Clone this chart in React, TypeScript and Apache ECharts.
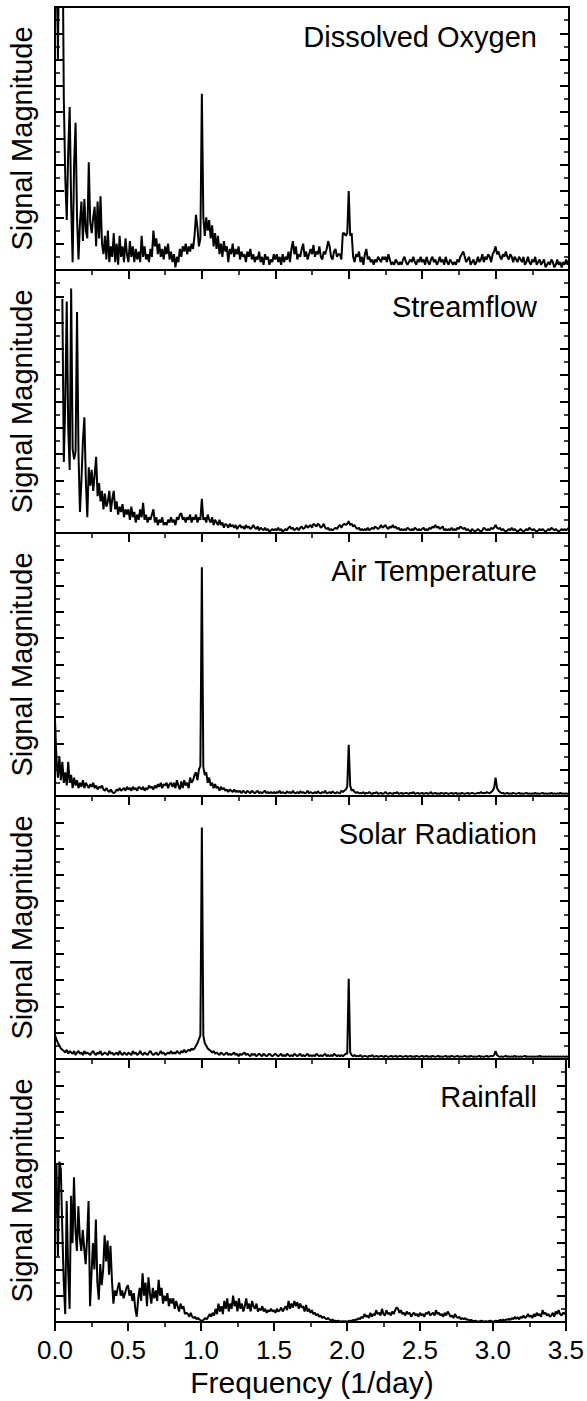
import React, { useEffect, useRef } from "react";
import * as echarts from "echarts";

// Sampling grid of the spectra (1/day)
const FREQ_STEP = 0.01;

const TITLES = ["Dissolved Oxygen", "Streamflow", "Air Temperature", "Solar Radiation", "Rainfall"];
const X_TICK_LABELS = ["0.0", "0.5", "1.0", "1.5", "2.0", "2.5", "3.0", "3.5"];

// Values read every 0.01 1/day from 0 to 3.5 (ten per line)
const DISSOLVED_OXYGEN = [
  9, 14, 8, 14, 10, 14, 6.5, 3.5, 1.9, 4.5,
  6.2, 2.5, 0.3, 4.0, 5.6, 2.0, 0.4, 1.8, 2.6, 1.1,
  2.7, 1.5, 1.2, 4.1, 1.8, 1.4, 2.0, 2.4, 0.9, 2.6,
  1.2, 2.8, 1.0, 0.6, 1.3, 0.4, 1.5, 0.3, 0.9, 0.5,
  1.4, 0.3, 1.0, 0.2, 1.3, 0.5, 0.9, 0.3, 1.2, 0.6,
  0.3, 1.1, 0.5, 0.9, 0.3, 0.8, 0.4, 0.7, 0.3, 1.3,
  0.5, 0.9, 0.4, 0.6, 0.3, 0.8, 0.5, 1.5, 0.9, 1.2,
  0.6, 1.0, 0.5, 0.8, 0.4, 0.9, 0.6, 1.0, 0.4, 0.7,
  0.3, 0.6, 0.1, 0.5, 0.3, 0.8, 0.5, 0.9, 0.7, 1.0,
  0.6, 0.9, 0.7, 1.0, 0.8, 1.3, 2.1, 1.6, 0.9, 1.2,
  6.7, 2.0, 1.3, 2.0, 1.5, 1.9, 1.2, 1.7, 0.9, 1.4,
  0.8, 1.3, 0.6, 1.0, 0.5, 1.1, 0.7, 0.9, 0.3, 0.8,
  0.6, 1.0, 0.5, 0.8, 0.6, 0.9, 0.4, 0.7, 0.5, 0.6,
  0.3, 0.7, 0.5, 0.8, 0.4, 0.6, 0.3, 0.5, 0.4, 0.7,
  0.3, 0.5, 0.2, 0.6, 0.4, 0.5, 0.2, 0.4, 0.3, 0.6,
  0.4, 0.6, 0.3, 0.5, 0.2, 0.6, 0.3, 0.5, 0.4, 0.7,
  0.3, 0.8, 1.1, 0.6, 0.9, 0.4, 0.6, 0.5, 0.8, 1.0,
  0.5, 0.7, 0.4, 0.6, 0.8, 0.6, 0.95, 0.5, 0.7, 0.6,
  0.9, 0.5, 0.4, 0.7, 0.6, 0.8, 1.1, 0.9, 0.5, 0.4,
  0.7, 0.8, 0.5, 0.6, 0.6, 0.4, 1.4, 1.4, 1.3, 1.4,
  3.0, 1.3, 1.4, 0.5, 0.3, 0.6, 0.5, 0.7, 0.3, 0.5,
  0.2, 0.6, 0.8, 0.4, 0.5, 0.3, 0.4, 0.2, 0.4, 0.3,
  0.5, 0.4, 0.3, 0.5, 0.4, 0.5, 0.3, 0.6, 0.4, 0.2,
  0.3, 0.2, 0.4, 0.3, 0.2, 0.3, 0.2, 0.4, 0.5, 0.3,
  0.2, 0.3, 0.4, 0.3, 0.5, 0.3, 0.2, 0.4, 0.3, 0.5,
  0.3, 0.4, 0.2, 0.5, 0.3, 0.2, 0.4, 0.5, 0.3, 0.4,
  0.2, 0.3, 0.5, 0.3, 0.4, 0.2, 0.5, 0.3, 0.2, 0.4,
  0.3, 0.2, 0.3, 0.2, 0.4, 0.3, 0.5, 0.6, 0.7, 0.5,
  0.3, 0.4, 0.5, 0.2, 0.3, 0.4, 0.2, 0.3, 0.5, 0.3,
  0.4, 0.6, 0.3, 0.5, 0.4, 0.6, 0.5, 0.3, 0.6, 0.7,
  0.9, 0.6, 0.7, 0.5, 0.4, 0.6, 0.5, 0.7, 0.5, 0.4,
  0.6, 0.5, 0.3, 0.5, 0.4, 0.3, 0.5, 0.4, 0.3, 0.5,
  0.2, 0.3, 0.5, 0.3, 0.2, 0.4, 0.3, 0.5, 0.2, 0.3,
  0.4, 0.2, 0.3, 0.4, 0.1, 0.2, 0.3, 0.2, 0.4, 0.3,
  0.1, 0.2, 0.4, 0.2, 0.3, 0.1, 0.3, 0.2, 0.4, 0.2,
  0.4,
];

const STREAMFLOW = [
  null, null, null, null, null, 8.9, 2.7, 5.0, 8.8, 4.0,
  2.4, 9.3, 3.2, 2.8, 3.1, 8.4, 3.0, 0.8, 2.0, 3.5,
  4.4, 2.0, 0.6, 2.5, 1.8, 2.4, 1.6, 2.2, 2.9, 1.4,
  1.9, 1.2, 1.6, 0.9, 1.5, 1.0, 1.2, 1.6, 0.8, 1.3,
  1.6, 0.9, 1.2, 0.7, 1.0, 0.8, 1.1, 0.6, 0.9, 0.7,
  0.9, 0.5, 1.0, 0.6, 0.8, 0.4, 0.7, 0.5, 0.9, 0.6,
  1.15, 0.5, 0.7, 0.4, 0.6, 0.5, 0.7, 0.9, 0.4, 0.6,
  0.3, 0.5, 0.4, 0.6, 0.3, 0.4, 0.3, 0.5, 0.4, 0.6,
  0.4, 0.5, 0.3, 0.6, 0.5, 0.7, 0.75, 0.5, 0.6, 0.4,
  0.6, 0.5, 0.7, 0.4, 0.6, 0.5, 0.7, 0.4, 0.6, 0.5,
  1.3, 0.5, 0.6, 0.4, 0.7, 0.5, 0.4, 0.6, 0.3, 0.5,
  0.4, 0.3, 0.5, 0.3, 0.4, 0.2, 0.35, 0.3, 0.2, 0.35,
  0.25, 0.3, 0.2, 0.3, 0.15, 0.25, 0.3, 0.2, 0.25, 0.15,
  0.3, 0.2, 0.25, 0.15, 0.2, 0.3, 0.2, 0.15, 0.25, 0.1,
  0.2, 0.15, 0.1, 0.2, 0.1, 0.15, 0.05, 0.1, 0.15, 0.1,
  0.15, 0.1, 0.2, 0.1, 0.15, 0.05, 0.1, 0.15, 0.1, 0.2,
  0.25, 0.15, 0.2, 0.1, 0.15, 0.2, 0.1, 0.2, 0.25, 0.15,
  0.2, 0.3, 0.2, 0.25, 0.3, 0.2, 0.35, 0.3, 0.25, 0.35,
  0.3, 0.2, 0.25, 0.35, 0.2, 0.15, 0.2, 0.1, 0.15, 0.1,
  0.15, 0.2, 0.15, 0.25, 0.3, 0.2, 0.3, 0.35, 0.3, 0.35,
  0.45, 0.3, 0.35, 0.25, 0.3, 0.2, 0.15, 0.2, 0.1, 0.15,
  0.1, 0.15, 0.1, 0.2, 0.1, 0.15, 0.2, 0.15, 0.25, 0.2,
  0.15, 0.2, 0.3, 0.2, 0.25, 0.3, 0.2, 0.15, 0.25, 0.2,
  0.3, 0.2, 0.25, 0.15, 0.2, 0.1, 0.15, 0.1, 0.15, 0.1,
  0.2, 0.15, 0.1, 0.15, 0.1, 0.2, 0.15, 0.1, 0.15, 0.1,
  0.15, 0.2, 0.1, 0.15, 0.1, 0.2, 0.15, 0.25, 0.2, 0.3,
  0.2, 0.25, 0.15, 0.2, 0.25, 0.1, 0.15, 0.1, 0.15, 0.1,
  0.2, 0.1, 0.15, 0.1, 0.2, 0.15, 0.25, 0.2, 0.15, 0.2,
  0.1, 0.15, 0.1, 0.05, 0.15, 0.1, 0.05, 0.1, 0.15, 0.1,
  0.05, 0.1, 0.2, 0.15, 0.1, 0.15, 0.1, 0.2, 0.15, 0.2,
  0.3, 0.2, 0.15, 0.2, 0.1, 0.15, 0.1, 0.05, 0.1, 0.15,
  0.1, 0.2, 0.1, 0.15, 0.1, 0.05, 0.1, 0.15, 0.1, 0.05,
  0.1, 0.15, 0.1, 0.2, 0.15, 0.1, 0.15, 0.1, 0.05, 0.1,
  0.15, 0.1, 0.15, 0.1, 0.05, 0.1, 0.15, 0.1, 0.2, 0.15,
  0.1, 0.15, 0.1, 0.05, 0.1, 0.15, 0.1, 0.15, 0.1, 0.15,
  0.2,
];

const AIR_TEMPERATURE = [
  2.9, 1.4, 0.7, 1.5, 0.6, 1.3, 0.5, 0.9, 0.4, 1.3,
  0.5, 0.8, 0.3, 0.7, 0.4, 0.6, 0.3, 0.5, 0.35, 0.6,
  0.3, 0.5, 0.4, 0.3, 0.45, 0.35, 0.5, 0.3, 0.4, 0.25,
  0.35, 0.3, 0.4, 0.25, 0.2, 0.3, 0.2, 0.15, 0.25, 0.15,
  0.1, 0.15, 0.25, 0.2, 0.3, 0.2, 0.25, 0.3, 0.2, 0.35,
  0.25, 0.3, 0.2, 0.35, 0.25, 0.3, 0.2, 0.35, 0.3, 0.25,
  0.35, 0.2, 0.3, 0.25, 0.4, 0.3, 0.35, 0.25, 0.4, 0.3,
  0.45, 0.35, 0.5, 0.3, 0.45, 0.4, 0.5, 0.3, 0.45, 0.5,
  0.35, 0.5, 0.3, 0.6, 0.4, 0.25, 0.55, 0.3, 0.6, 0.4,
  0.5, 0.3, 0.7, 0.5, 0.6, 0.8, 0.9, 0.6, 1.0, 1.15,
  8.7, 1.1, 0.8, 0.9, 0.5, 0.7, 0.4, 0.5, 0.3, 0.45,
  0.3, 0.35, 0.2, 0.35, 0.25, 0.3, 0.2, 0.25, 0.15, 0.25,
  0.2, 0.15, 0.25, 0.15, 0.2, 0.15, 0.2, 0.1, 0.2, 0.15,
  0.1, 0.2, 0.15, 0.1, 0.2, 0.15, 0.1, 0.15, 0.2, 0.1,
  0.15, 0.1, 0.15, 0.2, 0.1, 0.15, 0.1, 0.15, 0.1, 0.15,
  0.1, 0.15, 0.12, 0.2, 0.1, 0.15, 0.12, 0.1, 0.18, 0.12,
  0.15, 0.1, 0.2, 0.12, 0.1, 0.15, 0.1, 0.18, 0.12, 0.15,
  0.1, 0.12, 0.2, 0.1, 0.15, 0.12, 0.1, 0.15, 0.1, 0.18,
  0.12, 0.1, 0.15, 0.12, 0.2, 0.1, 0.12, 0.15, 0.1, 0.18,
  0.12, 0.1, 0.15, 0.12, 0.1, 0.2, 0.15, 0.2, 0.25, 0.35,
  1.95, 0.4, 0.2, 0.25, 0.15, 0.12, 0.15, 0.1, 0.12, 0.1,
  0.15, 0.08, 0.12, 0.1, 0.15, 0.1, 0.08, 0.12, 0.1, 0.15,
  0.08, 0.1, 0.12, 0.08, 0.1, 0.15, 0.1, 0.08, 0.12, 0.1,
  0.08, 0.12, 0.1, 0.15, 0.08, 0.1, 0.12, 0.08, 0.1, 0.12,
  0.1, 0.08, 0.12, 0.1, 0.15, 0.08, 0.1, 0.12, 0.08, 0.1,
  0.12, 0.08, 0.1, 0.12, 0.08, 0.1, 0.15, 0.08, 0.1, 0.12,
  0.08, 0.1, 0.08, 0.12, 0.1, 0.08, 0.12, 0.1, 0.08, 0.1,
  0.12, 0.08, 0.1, 0.12, 0.08, 0.1, 0.08, 0.12, 0.1, 0.08,
  0.1, 0.12, 0.08, 0.1, 0.12, 0.1, 0.08, 0.1, 0.12, 0.1,
  0.15, 0.1, 0.12, 0.1, 0.15, 0.12, 0.1, 0.15, 0.2, 0.3,
  0.7, 0.3, 0.2, 0.15, 0.1, 0.12, 0.08, 0.1, 0.12, 0.08,
  0.1, 0.08, 0.12, 0.1, 0.08, 0.1, 0.12, 0.08, 0.1, 0.08,
  0.1, 0.12, 0.08, 0.1, 0.08, 0.1, 0.08, 0.12, 0.08, 0.1,
  0.08, 0.1, 0.12, 0.08, 0.1, 0.08, 0.1, 0.08, 0.12, 0.08,
  0.1, 0.08, 0.1, 0.08, 0.12, 0.08, 0.1, 0.08, 0.1, 0.08,
  0.1,
];

const SOLAR_RADIATION = [
  0.9, 0.75, 0.6, 0.5, 0.4, 0.35, 0.3, 0.25, 0.35, 0.2,
  0.3, 0.25, 0.2, 0.3, 0.15, 0.25, 0.3, 0.2, 0.25, 0.15,
  0.3, 0.2, 0.25, 0.2, 0.15, 0.25, 0.3, 0.2, 0.15, 0.25,
  0.2, 0.3, 0.15, 0.2, 0.25, 0.2, 0.15, 0.3, 0.2, 0.25,
  0.15, 0.2, 0.25, 0.15, 0.3, 0.2, 0.15, 0.25, 0.2, 0.15,
  0.25, 0.2, 0.15, 0.3, 0.2, 0.25, 0.15, 0.2, 0.3, 0.2,
  0.15, 0.25, 0.2, 0.15, 0.25, 0.3, 0.2, 0.15, 0.2, 0.25,
  0.15, 0.2, 0.3, 0.2, 0.25, 0.15, 0.2, 0.25, 0.2, 0.3,
  0.2, 0.25, 0.2, 0.3, 0.25, 0.2, 0.3, 0.25, 0.35, 0.25,
  0.3, 0.35, 0.3, 0.4, 0.35, 0.4, 0.5, 0.6, 0.75, 0.9,
  8.8, 0.9, 0.6, 0.5, 0.4, 0.35, 0.3, 0.25, 0.3, 0.2,
  0.25, 0.2, 0.15, 0.25, 0.2, 0.15, 0.2, 0.25, 0.15, 0.2,
  0.15, 0.2, 0.25, 0.15, 0.2, 0.1, 0.2, 0.15, 0.2, 0.25,
  0.15, 0.2, 0.15, 0.1, 0.2, 0.15, 0.2, 0.1, 0.15, 0.2,
  0.15, 0.1, 0.2, 0.15, 0.1, 0.15, 0.2, 0.15, 0.1, 0.15,
  0.2, 0.15, 0.1, 0.15, 0.2, 0.1, 0.15, 0.1, 0.2, 0.15,
  0.1, 0.15, 0.1, 0.2, 0.15, 0.1, 0.15, 0.2, 0.1, 0.15,
  0.1, 0.15, 0.2, 0.1, 0.15, 0.1, 0.15, 0.1, 0.2, 0.15,
  0.1, 0.15, 0.1, 0.15, 0.2, 0.1, 0.15, 0.1, 0.15, 0.1,
  0.2, 0.15, 0.1, 0.15, 0.1, 0.15, 0.1, 0.15, 0.2, 0.2,
  3.05, 0.25, 0.15, 0.1, 0.15, 0.1, 0.12, 0.1, 0.15, 0.08,
  0.1, 0.12, 0.1, 0.08, 0.12, 0.1, 0.15, 0.08, 0.1, 0.12,
  0.08, 0.1, 0.12, 0.1, 0.08, 0.12, 0.1, 0.08, 0.1, 0.12,
  0.08, 0.1, 0.12, 0.08, 0.1, 0.12, 0.1, 0.08, 0.1, 0.12,
  0.08, 0.1, 0.12, 0.08, 0.1, 0.08, 0.12, 0.1, 0.08, 0.1,
  0.12, 0.08, 0.1, 0.12, 0.08, 0.1, 0.08, 0.12, 0.1, 0.08,
  0.1, 0.12, 0.08, 0.1, 0.08, 0.1, 0.12, 0.08, 0.1, 0.08,
  0.12, 0.1, 0.08, 0.1, 0.12, 0.08, 0.1, 0.08, 0.1, 0.12,
  0.08, 0.1, 0.08, 0.12, 0.1, 0.08, 0.1, 0.08, 0.1, 0.12,
  0.08, 0.1, 0.08, 0.1, 0.12, 0.08, 0.1, 0.12, 0.1, 0.15,
  0.3, 0.15, 0.1, 0.08, 0.1, 0.08, 0.1, 0.12, 0.08, 0.1,
  0.08, 0.1, 0.08, 0.12, 0.08, 0.1, 0.08, 0.1, 0.08, 0.1,
  0.12, 0.08, 0.1, 0.08, 0.1, 0.08, 0.1, 0.08, 0.1, 0.08,
  0.12, 0.08, 0.1, 0.08, 0.1, 0.08, 0.1, 0.08, 0.1, 0.08,
  0.1, 0.08, 0.1, 0.08, 0.1, 0.08, 0.1, 0.08, 0.1, 0.08,
  0.1,
];

const RAINFALL = [
  3.8, 6.0, 2.5, 6.1, 5.8, 3.5, 1.5, 0.3, 4.6, 2.0,
  0.5, 4.8, 3.0, 5.5, 3.5, 2.7, 4.4, 3.2, 2.7, 3.5,
  2.8, 2.2, 3.2, 4.6, 0.6, 1.8, 3.0, 2.0, 3.9, 1.5,
  0.85, 2.2, 1.4, 2.0, 3.3, 2.3, 3.1, 1.8, 2.9, 1.6,
  0.7, 1.2, 1.0, 1.3, 1.5, 1.0, 1.2, 0.9, 1.1, 1.3,
  1.4, 1.0, 1.2, 0.8, 1.1, 0.5, 0.2, 0.9, 1.3, 0.8,
  1.85, 1.0, 1.5, 0.6, 1.7, 1.1, 0.7, 1.3, 0.9, 1.2,
  0.8, 1.6, 1.0, 1.3, 0.7, 1.0, 0.8, 1.1, 0.6, 0.9,
  0.7, 0.9, 0.5, 0.8, 0.6, 0.4, 0.7, 0.5, 0.6, 0.3,
  0.35, 0.3, 0.2, 0.35, 0.2, 0.15, 0.2, 0.1, 0.15, 0.1,
  0.05, 0.05, 0.1, 0.15, 0.1, 0.2, 0.3, 0.2, 0.35, 0.25,
  0.5, 0.3, 0.7, 0.4, 0.6, 0.3, 0.8, 0.5, 0.9, 0.4,
  0.7, 0.5, 1.0, 0.6, 0.8, 0.4, 0.9, 0.5, 0.7, 0.4,
  0.6, 0.9, 0.5, 0.7, 0.4, 0.8, 0.6, 0.5, 0.7, 0.4,
  0.5, 0.45, 0.6, 0.4, 0.5, 0.35, 0.45, 0.4, 0.5, 0.4,
  0.45, 0.35, 0.5, 0.4, 0.45, 0.55, 0.4, 0.5, 0.6, 0.45,
  0.8, 0.5, 0.7, 0.55, 0.8, 0.6, 0.75, 0.5, 0.7, 0.55,
  0.6, 0.4, 0.65, 0.4, 0.5, 0.35, 0.45, 0.3, 0.35, 0.25,
  0.3, 0.2, 0.25, 0.15, 0.2, 0.15, 0.1, 0.15, 0.1, 0.05,
  0.1, 0.05, 0.05, 0.03, 0.05, 0.03, 0.02, 0.03, 0.02, 0.03,
  0.02, 0.03, 0.05, 0.03, 0.08, 0.05, 0.1, 0.08, 0.15, 0.1,
  0.2, 0.15, 0.3, 0.2, 0.25, 0.15, 0.35, 0.2, 0.3, 0.25,
  0.45, 0.3, 0.35, 0.25, 0.5, 0.3, 0.25, 0.45, 0.3, 0.35,
  0.25, 0.4, 0.3, 0.45, 0.55, 0.5, 0.35, 0.45, 0.3, 0.35,
  0.25, 0.4, 0.3, 0.35, 0.2, 0.3, 0.35, 0.25, 0.3, 0.2,
  0.35, 0.25, 0.3, 0.2, 0.35, 0.3, 0.4, 0.25, 0.3, 0.35,
  0.25, 0.45, 0.3, 0.35, 0.25, 0.3, 0.2, 0.35, 0.25, 0.4,
  0.3, 0.2, 0.25, 0.15, 0.3, 0.2, 0.15, 0.2, 0.1, 0.15,
  0.1, 0.15, 0.08, 0.1, 0.05, 0.08, 0.05, 0.03, 0.05, 0.03,
  0.02, 0.03, 0.05, 0.03, 0.02, 0.03, 0.02, 0.03, 0.05, 0.03,
  0.02, 0.03, 0.05, 0.03, 0.05, 0.08, 0.05, 0.1, 0.05, 0.1,
  0.08, 0.12, 0.08, 0.15, 0.1, 0.2, 0.12, 0.18, 0.1, 0.2,
  0.15, 0.25, 0.15, 0.2, 0.3, 0.2, 0.25, 0.15, 0.3, 0.2,
  0.35, 0.25, 0.3, 0.2, 0.45, 0.3, 0.35, 0.25, 0.3, 0.2,
  0.25, 0.35, 0.2, 0.4, 0.3, 0.45, 0.3, 0.25, 0.35, 0.3,
  0.4,
];

const SERIES = [DISSOLVED_OXYGEN, STREAMFLOW, AIR_TEMPERATURE, SOLAR_RADIATION, RAINFALL];

const FONT = '"Liberation Sans", Arial, Helvetica, sans-serif';
const W = 587;
const H = 1401;
const GRID_LEFT = 55;
const GRID_RIGHT = 18;
const GRID_TOP = 7;
const PANEL_H = 263;
const TITLE_OFFSETS = [30, 37, 38, 38, 38];

export default function App() {
  const ref = useRef<HTMLDivElement>(null);

  useEffect(() => {
    if (!ref.current) return;
    const chart = echarts.init(ref.current, undefined, { renderer: "svg" });

    const grids: any[] = [];
    const xAxes: any[] = [];
    const yAxes: any[] = [];
    const series: any[] = [];
    const graphics: any[] = [];

    SERIES.forEach((vals, i) => {
      const top = GRID_TOP + PANEL_H * i;
      grids.push({
        left: GRID_LEFT,
        right: GRID_RIGHT,
        top,
        height: PANEL_H,
        show: true,
        borderColor: "#000",
        borderWidth: 2,
        backgroundColor: "transparent",
      });
      const last = i === SERIES.length - 1;
      xAxes.push({
        gridIndex: i,
        type: "value",
        min: 0,
        max: 3.5,
        interval: 0.5,
        position: "bottom",
        axisLine: { show: true, onZero: false, lineStyle: { color: "#000", width: 2 } },
        axisTick: { show: true, inside: false, length: 9, lineStyle: { color: "#000", width: 2 } },
        minorTick: { show: true, splitNumber: 2, length: 5, lineStyle: { color: "#000", width: 1.5 } },
        splitLine: { show: false },
        minorSplitLine: { show: false },
        axisLabel: {
          show: last,
          margin: 15,
          color: "#000",
          fontSize: 26,
          fontFamily: FONT,
          formatter: (v: number) => X_TICK_LABELS[Math.round(v / 0.5)] ?? v.toFixed(1),
        },
      });
      const yCommon = {
        gridIndex: i,
        type: "value",
        min: 0,
        max: 10,
        interval: 1,
        axisLine: { show: true, onZero: false, lineStyle: { color: "#000", width: 2 } },
        axisTick: { show: true, inside: true, length: 9, lineStyle: { color: "#000", width: 2 } },
        minorTick: { show: true, splitNumber: 2, length: 5, lineStyle: { color: "#000", width: 1.5 } },
        splitLine: { show: false },
        minorSplitLine: { show: false },
        axisLabel: { show: false },
      };
      yAxes.push({ ...yCommon, position: "left" });
      yAxes.push({ ...yCommon, position: "right" });

      series.push({
        type: "line",
        xAxisIndex: i,
        yAxisIndex: i * 2,
        data: vals.map((v, k) => [Number((k * FREQ_STEP).toFixed(2)), v]),
        showSymbol: false,
        symbol: "none",
        clip: true,
        connectNulls: false,
        lineStyle: { color: "#000", width: 2 },
        emphasis: { disabled: true },
      });

      graphics.push({
        type: "text",
        x: 537,
        y: top + TITLE_OFFSETS[i],
        style: {
          text: TITLES[i],
          fill: "#000",
          fontSize: 29,
          fontFamily: FONT,
          align: "right",
          verticalAlign: "middle",
        },
      });
      graphics.push({
        type: "text",
        x: 22,
        y: top + PANEL_H / 2,
        rotation: Math.PI / 2,
        style: {
          text: "Signal Magnitude",
          fill: "#000",
          fontSize: 29,
          fontFamily: FONT,
          align: "center",
          verticalAlign: "middle",
        },
      });
    });

    graphics.push({
      type: "text",
      x: (GRID_LEFT + (W - GRID_RIGHT)) / 2,
      y: 1382,
      style: {
        text: "Frequency (1/day)",
        fill: "#000",
        fontSize: 30,
        fontFamily: FONT,
        align: "center",
        verticalAlign: "middle",
      },
    });

    chart.setOption({
      animation: false,
      backgroundColor: "#fff",
      grid: grids,
      xAxis: xAxes,
      yAxis: yAxes,
      series,
      graphic: graphics,
    });

    return () => chart.dispose();
  }, []);

  return (
    <div
      ref={ref}
      style={{ position: "absolute", left: 0, top: 0, width: W, height: H }}
    />
  );
}
